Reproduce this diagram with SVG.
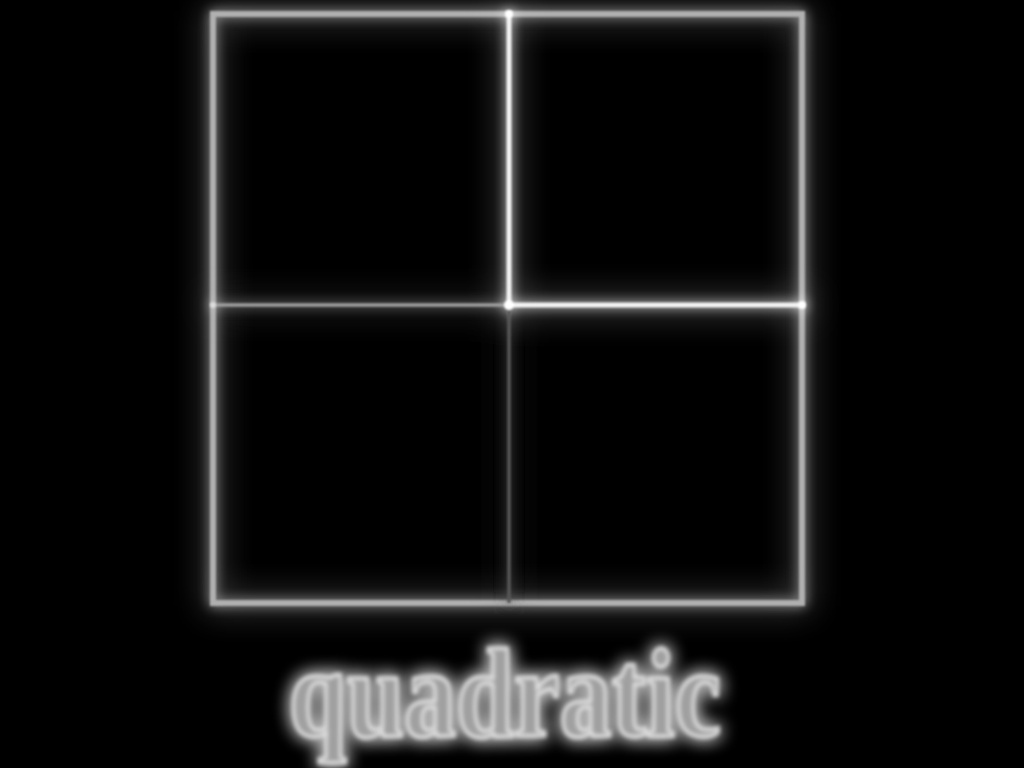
<svg xmlns="http://www.w3.org/2000/svg" width="1024" height="768" viewBox="0 0 1024 768">
<defs>
<filter id="glow" x="-20%" y="-20%" width="140%" height="140%">
<feGaussianBlur in="SourceGraphic" stdDeviation="1.2" result="s"/>
<feGaussianBlur in="SourceGraphic" stdDeviation="6" result="b1"/>
<feGaussianBlur in="SourceGraphic" stdDeviation="16" result="b2"/>
<feMerge><feMergeNode in="b2"/><feMergeNode in="b1"/><feMergeNode in="s"/></feMerge>
</filter>
<filter id="tglow" x="-20%" y="-40%" width="140%" height="180%">
<feGaussianBlur in="SourceGraphic" stdDeviation="2" result="s"/>
<feGaussianBlur in="SourceGraphic" stdDeviation="9" result="b1"/>
<feMerge><feMergeNode in="b1"/><feMergeNode in="b1"/><feMergeNode in="s"/></feMerge>
</filter>
</defs>
<style>
.frame{fill:none;stroke:#b0b0b0;stroke-width:6}
.bright{stroke:#f4f4f4;stroke-width:5;fill:none}
.mid{stroke:#a0a0a0;stroke-width:3.5;fill:none}
.dim{stroke:#5a5a5a;stroke-width:3.5;fill:none}
.label{font-family:"Liberation Serif",serif;font-weight:bold;font-size:126px;fill:#a0a0a0;stroke:#e8e8e8;stroke-width:3}
</style>
<rect width="1024" height="768" fill="#000"/>
<g id="square" filter="url(#glow)">
<rect class="frame" x="213" y="14" width="589" height="589"/>
</g>
<g id="connectors" filter="url(#glow)">
<line class="dim" x1="509" y1="305" x2="509" y2="603"/>
<line class="mid" x1="213" y1="305" x2="509" y2="305"/>
<line class="bright" x1="509" y1="14" x2="509" y2="305"/>
<line class="bright" x1="509" y1="305" x2="802" y2="305"/>
<circle cx="509" cy="14" r="4" fill="#fff"/>
<circle cx="509" cy="305" r="5" fill="#fff"/>
<circle cx="802" cy="305" r="4" fill="#fff"/>
<circle cx="213" cy="305" r="3" fill="#ddd"/>
</g>
<g id="label" filter="url(#tglow)">
<text class="label" x="505" y="736" text-anchor="middle" textLength="432" lengthAdjust="spacingAndGlyphs">quadratic</text>
</g>
</svg>
